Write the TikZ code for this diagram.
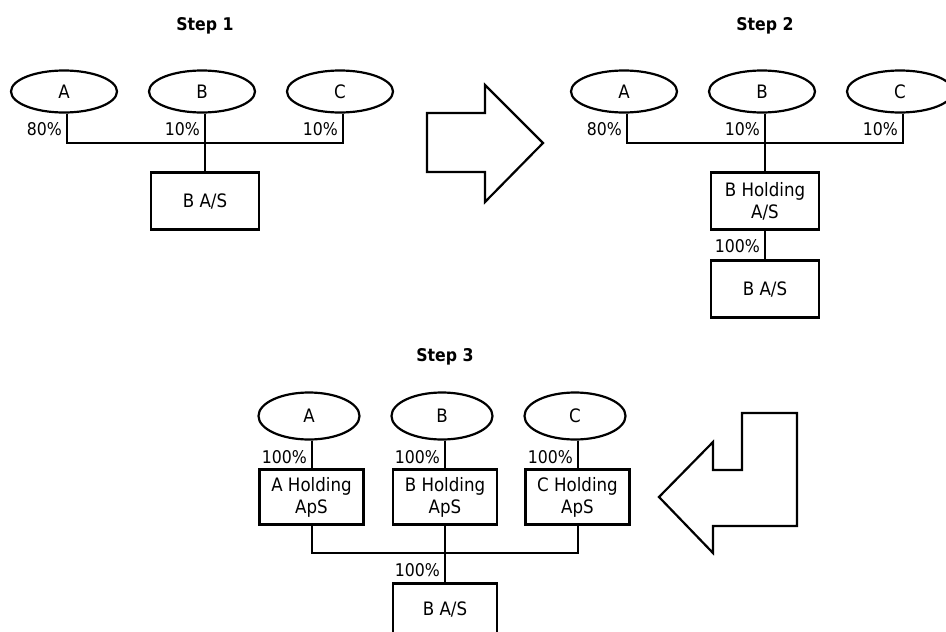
\documentclass[tikz,border=0pt]{standalone}
\usepackage{fontspec}
\setmainfont{DejaVu Sans Condensed}
\usetikzlibrary{shapes.geometric}
\begin{document}
\begin{tikzpicture}[x=1pt,y=-1pt,
  owner/.style={ellipse,draw,line width=2.2pt,inner sep=0pt,minimum width=106pt,minimum height=42pt,font=\fontsize{18.5}{22}\selectfont},
  owner3/.style={owner,minimum width=101pt,minimum height=47pt},
  company/.style={rectangle,draw,line width=2.8pt,inner sep=0pt,minimum width=108pt,minimum height=57pt,align=center,font=\fontsize{18.5}{22}\selectfont},
  company3/.style={company,minimum width=104pt,minimum height=55pt,line width=2.5pt},
  pct/.style={anchor=east,inner sep=0pt,font=\fontsize{17.5}{20}\selectfont},
  steptitle/.style={font=\bfseries\fontsize{17.5}{20}\selectfont,inner sep=0pt},
  conn/.style={line width=2.9pt},
  conn3/.style={line width=2.5pt},
  bigarrow/.style={draw,line width=2.2pt,line join=miter}
]
\useasboundingbox (0,0) rectangle (946,632);
\clip (0,0) rectangle (946,632);
\fill[white] (0,0) rectangle (946,632);

% ---------- Step 1 ----------
\node[steptitle] (t1) at (205,26) {Step 1};
\node[owner] (a1) at (64,91.5) {A};
\node[owner] (b1) at (202,91.5) {B};
\node[owner] (c1) at (340,91.5) {C};
\node[company] (bas1) at (205,201) {B A/S};
\coordinate (j1) at (205,143);
\draw[conn] ([xshift=3pt]a1.south) |- (j1) -| ([xshift=3pt]c1.south);
\draw[conn] ([xshift=3pt]b1.south) -- (bas1.north);
\node[pct] (pa1) at (62,129) {80\%};
\node[pct] (pb1) at (200,129) {10\%};
\node[pct] (pc1) at (338,129) {10\%};

% ---------- Step 2 ----------
\node[steptitle] (t2) at (765,26) {Step 2};
\node[owner] (a2) at (624,91.5) {A};
\node[owner] (b2) at (762,91.5) {B};
\node[owner] (c2) at (900,91.5) {C};
\node[company] (bh2) at (765,201) {B Holding\\A/S};
\node[company] (bas2) at (765,289) {B A/S};
\coordinate (j2) at (765,143);
\draw[conn] ([xshift=3pt]a2.south) |- (j2) -| ([xshift=3pt]c2.south);
\draw[conn] ([xshift=3pt]b2.south) -- (bh2.north);
\draw[conn] (bh2.south) -- (bas2.north);
\node[pct] (pa2) at (622,129) {80\%};
\node[pct] (pb2) at (760,129) {10\%};
\node[pct] (pc2) at (898,129) {10\%};
\node[pct] (ph2) at (760,246) {100\%};

% ---------- Step 3 ----------
\node[steptitle] (t3) at (445,357) {Step 3};
\node[owner3] (a3) at (309,416) {A};
\node[owner3] (b3) at (442,416) {B};
\node[owner3] (c3) at (575,416) {C};
\node[company3] (ah3) at (311.5,497) {A Holding\\ApS};
\node[company3] (bh3) at (445,497) {B Holding\\ApS};
\node[company3] (ch3) at (577.5,497) {C Holding\\ApS};
\node[company3,minimum height=80pt,anchor=north] (bas3) at (445,582) {};
\node[font=\fontsize{18.5}{22}\selectfont,inner sep=0pt] (bas3t) at (445,609) {B A/S};
\draw[conn3] ([xshift=3pt]a3.south) -- ([xshift=0.5pt]ah3.north);
\draw[conn3] ([xshift=3pt]b3.south) -- (bh3.north);
\draw[conn3] ([xshift=3pt]c3.south) -- ([xshift=0.5pt]ch3.north);
\coordinate (j3) at (445,553);
\draw[conn3] ([xshift=0.5pt]ah3.south) |- (j3) -| ([xshift=0.5pt]ch3.south);
\draw[conn3] (bh3.south) -- (bas3.north);
\node[pct] (pa3) at (307,457) {100\%};
\node[pct] (pb3) at (440,457) {100\%};
\node[pct] (pc3) at (573,457) {100\%};
\node[pct] (pd3) at (440,570) {100\%};

% ---------- Arrows ----------
\draw[bigarrow] (427,113) -- (485,113) -- (485,85) -- (543,143) -- (485,202) -- (485,172) -- (427,172) -- cycle;
\draw[bigarrow] (659,497) -- (713,442) -- (713,470) -- (742,470) -- (742,413) -- (797,413) -- (797,526) -- (713,526) -- (713,553) -- cycle;
\end{tikzpicture}
\end{document}
